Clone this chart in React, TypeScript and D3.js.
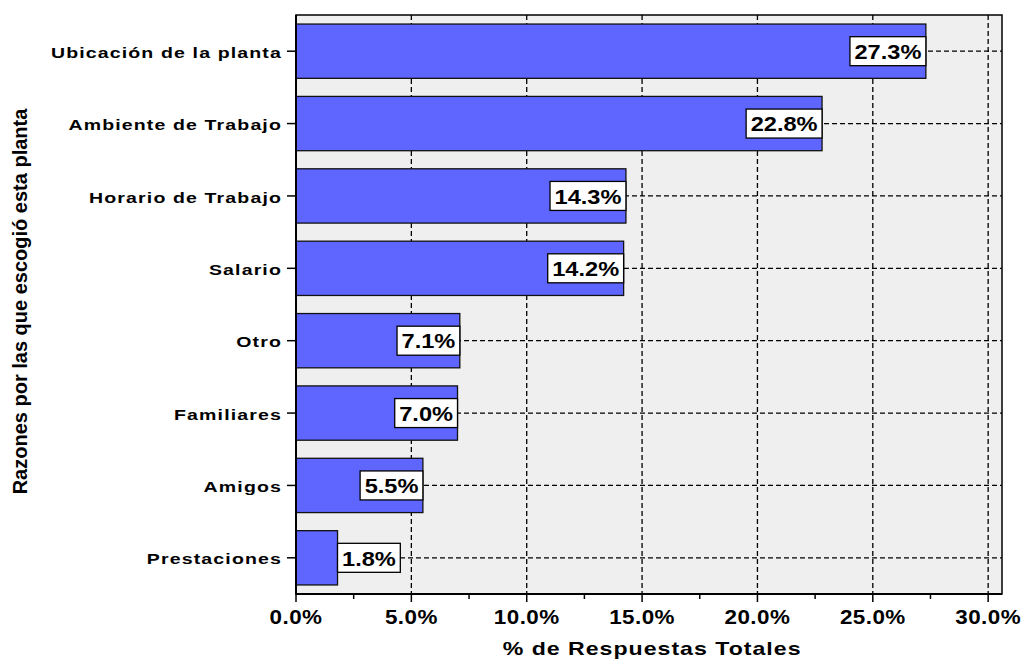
import React from "react";
import * as d3 from "d3";

const categories = [
  "Ubicación de la planta",
  "Ambiente de Trabajo",
  "Horario de Trabajo",
  "Salario",
  "Otro",
  "Familiares",
  "Amigos",
  "Prestaciones",
];
const values = [27.3, 22.8, 14.3, 14.2, 7.1, 7.0, 5.5, 1.8];
const majorTicks = [0, 5, 10, 15, 20, 25, 30];
const minorTicks = [2.5, 7.5, 12.5, 17.5, 22.5, 27.5];

const W = 1022;
const H = 660;
const M = { left: 296, top: 15, right: 1002, bottom: 594 };
const FONT = "Arial, 'Liberation Sans', Helvetica, sans-serif";
const NARROW = "'Liberation Sans Narrow', 'Arial Narrow', 'Liberation Sans', Arial, sans-serif";

// Arial Bold advance widths (em) for the characters used in percent labels
const glyphW: Record<string, number> = { ".": 0.278, "%": 0.889 };
const textWidth = (s: string, size: number) =>
  s.split("").reduce((acc, ch) => acc + (glyphW[ch] ?? 0.556) * size, 0);

type WideProps = {
  x: number;
  y: number;
  sx: number;
  size: number;
  anchor: "start" | "middle" | "end";
  spacing?: number;
  children: React.ReactNode;
};

// Bold text stretched horizontally around its anchor point
function WideText({ x, y, sx, size, anchor, spacing = 0, children }: WideProps) {
  return (
    <text
      transform={`translate(${x},${y}) scale(${sx},1)`}
      dy="0.36em"
      textAnchor={anchor}
      fontFamily={FONT}
      fontWeight="bold"
      fontSize={size}
      letterSpacing={spacing}
      fill="#000"
    >
      {children}
    </text>
  );
}

export default function App() {
  const x = d3.scaleLinear().domain([0, 30.6]).range([M.left, M.right]);
  const y = d3
    .scaleBand<string>()
    .domain(categories)
    .range([M.top, M.bottom])
    .paddingInner(0.25)
    .paddingOuter(0.125);
  const bw = y.bandwidth();
  const fmt = (v: number) => `${v.toFixed(1)}%`;
  const boxH = 29;
  const labelSize = 20;
  const labelSx = 1.18;

  return (
    <svg width={W} height={H} style={{ position: "absolute", left: 0, top: 0 }}>
      <rect x={0} y={0} width={W} height={H} fill="#fff" />
      <rect x={M.left} y={M.top} width={M.right - M.left} height={M.bottom - M.top} fill="#EFEFEF" />
      {/* vertical grid */}
      {majorTicks.filter((t) => t > 0).map((t) => (
        <line key={`vg${t}`} x1={x(t)} x2={x(t)} y1={M.top} y2={M.bottom} stroke="#000" strokeWidth={1.3} strokeDasharray="5,3" />
      ))}
      {/* horizontal grid through bar centers */}
      {categories.map((c) => (
        <line key={`hg${c}`} x1={M.left} x2={M.right} y1={y(c)! + bw / 2} y2={y(c)! + bw / 2} stroke="#000" strokeWidth={1.3} strokeDasharray="5,3" />
      ))}
      {/* bars */}
      {categories.map((c, i) => (
        <rect key={`b${c}`} x={x(0)} y={y(c)!} width={x(values[i]) - x(0)} height={bw} fill="#5F66FF" stroke="#111" strokeWidth={1.3} />
      ))}
      {/* value labels */}
      {categories.map((c, i) => {
        const label = fmt(values[i]);
        const boxW = textWidth(label, labelSize) * labelSx + 9;
        const end = x(values[i]);
        const inside = end - x(0) > boxW + 4;
        const bx = inside ? end - boxW : end;
        const cy = y(c)! + bw / 2;
        return (
          <g key={`l${c}`}>
            <rect x={bx} y={cy - boxH / 2} width={boxW} height={boxH} fill="#fff" stroke="#000" strokeWidth={1.3} />
            <WideText x={bx + boxW / 2} y={cy + 0.5} sx={labelSx} size={labelSize} anchor="middle">
              {label}
            </WideText>
          </g>
        );
      })}
      {/* frame */}
      <rect x={M.left} y={M.top} width={M.right - M.left} height={M.bottom - M.top} fill="none" stroke="#000" strokeWidth={1.5} />
      <line x1={M.left} x2={M.left} y1={M.top} y2={M.bottom} stroke="#000" strokeWidth={2} />
      <line x1={M.left} x2={M.right} y1={M.bottom} y2={M.bottom} stroke="#000" strokeWidth={2} />
      {/* x ticks */}
      {majorTicks.map((t) => (
        <g key={`xt${t}`}>
          <line x1={x(t)} x2={x(t)} y1={M.bottom} y2={M.bottom + 8} stroke="#000" strokeWidth={1.5} />
          <WideText x={x(t)} y={M.bottom + 23} sx={1.15} size={19.5} spacing={0.4} anchor="middle">
            {fmt(t)}
          </WideText>
        </g>
      ))}
      {minorTicks.map((t) => (
        <line key={`mt${t}`} x1={x(t)} x2={x(t)} y1={M.bottom} y2={M.bottom + 5} stroke="#000" strokeWidth={1.5} />
      ))}
      {/* y ticks and category labels */}
      {categories.map((c) => {
        const cy = y(c)! + bw / 2;
        return (
          <g key={`yt${c}`}>
            <line x1={M.left - 9} x2={M.left} y1={cy} y2={cy} stroke="#000" strokeWidth={1.5} />
            <WideText x={M.left - 14} y={cy + 1} sx={1.26} size={15.5} spacing={0.9} anchor="end">
              {c}
            </WideText>
          </g>
        );
      })}
      {/* axis titles */}
      <WideText x={(x(0) + x(30)) / 2 + 10} y={648} sx={1.25} size={18.5} spacing={0.8} anchor="middle">
        % de Respuestas Totales
      </WideText>
      <text transform={`translate(20, ${(M.top + M.bottom) / 2 - 3}) rotate(-90)`} dy="0.36em" textAnchor="middle" fontFamily={NARROW} fontWeight="bold" fontSize={20} fill="#000">
        Razones por las que escogió esta planta
      </text>
    </svg>
  );
}
